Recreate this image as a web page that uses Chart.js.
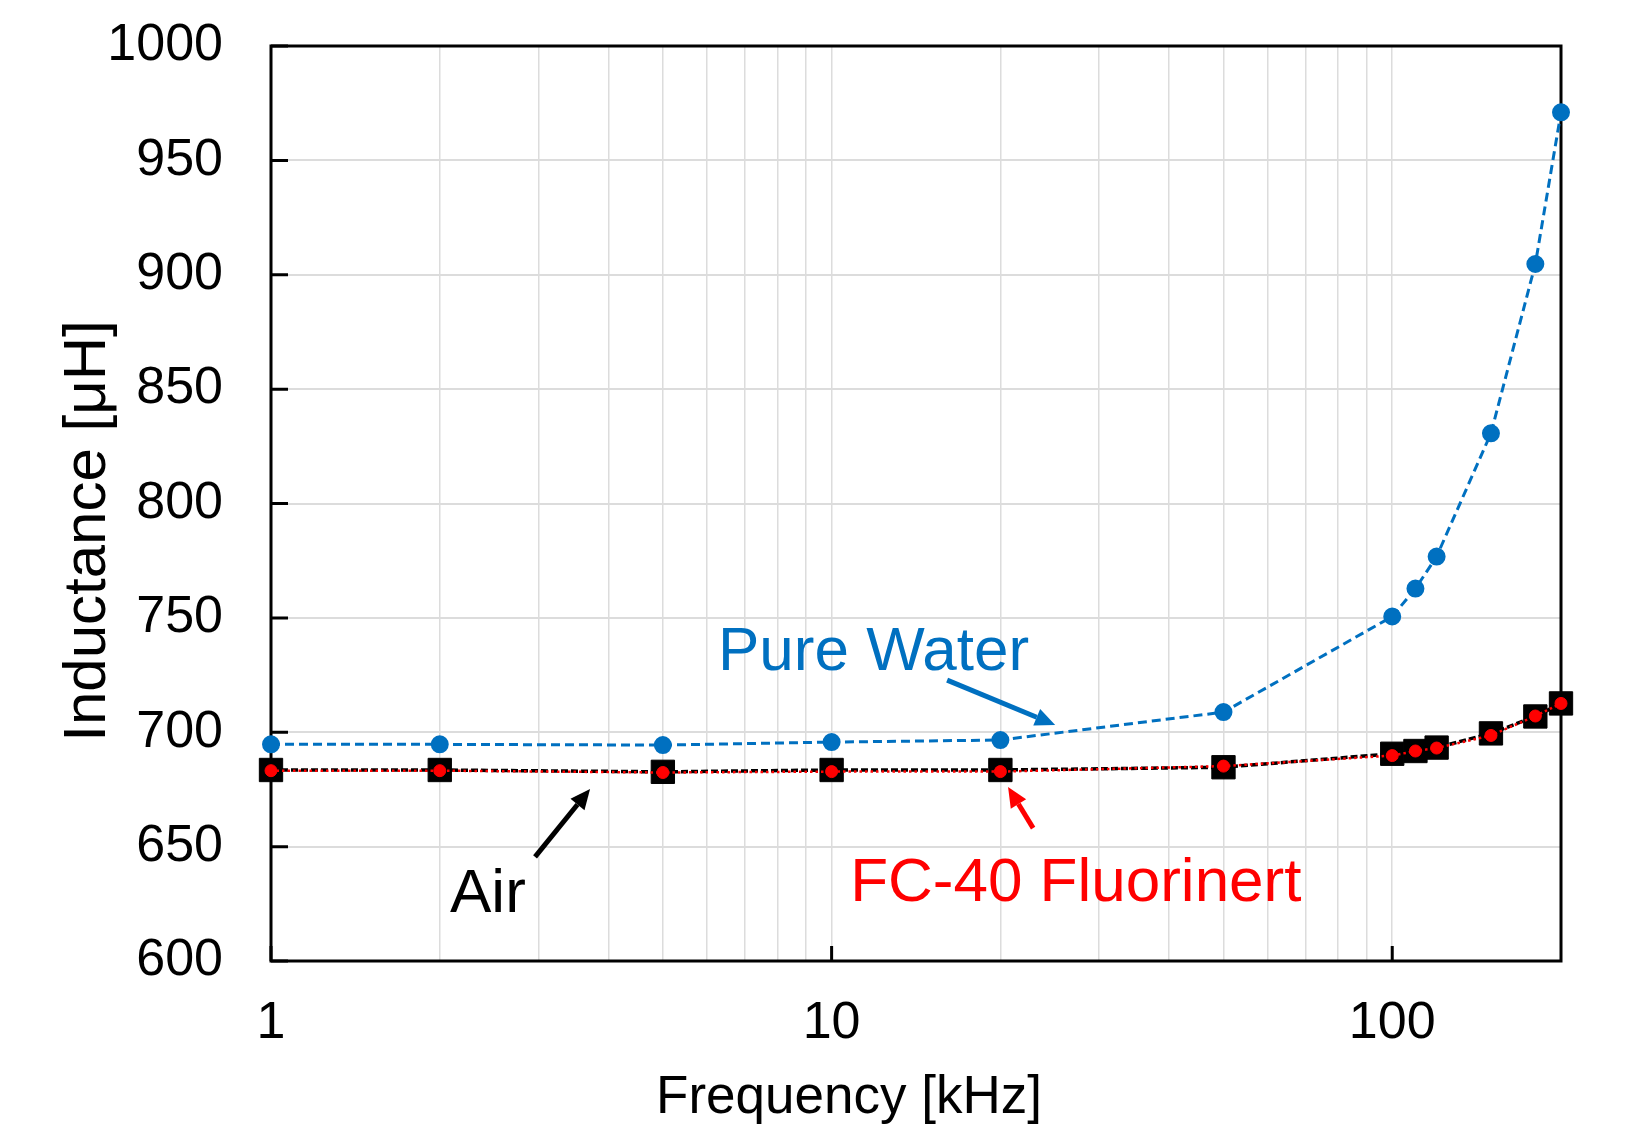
<!DOCTYPE html>
<html>
<head>
<meta charset="utf-8">
<script src="https://cdn.jsdelivr.net/npm/chart.js@4/dist/chart.umd.min.js"></script>
<style>
  html, body { margin: 0; padding: 0; background: #ffffff; }
  #wrap { width: 1628px; height: 1130px; }
</style>
</head>
<body>
<div id="wrap"><canvas id="c" width="1628" height="1130"></canvas></div>
<script>
// ---- data ----
const frequencies = [1, 2, 5, 10, 20, 50, 100, 110, 120, 150, 180, 200];
const pureWater = [694.7, 694.7, 694.4, 695.7, 696.6, 708.8, 750.6, 762.8, 776.8, 830.7, 904.7, 971.0];
const air = [683.5, 683.5, 682.7, 683.5, 683.5, 684.7, 690.6, 691.8, 693.3, 699.5, 706.9, 712.6];
const fc40 = [683.2, 683.2, 682.4, 682.8, 682.8, 685.2, 689.8, 691.8, 693.1, 698.6, 707.1, 712.6];
const seriesNames = ['Pure Water', 'Air', 'FC-40 Fluorinert'];
const xLabelTicks = [1, 10, 100];
const xGridTicks = [1, 2, 3, 4, 5, 6, 7, 8, 9, 10, 20, 30, 40, 50, 60, 70, 80, 90, 100, 200];
const yTicks = [600, 650, 700, 750, 800, 850, 900, 950, 1000];
const xTitle = 'Frequency [kHz]';
const yTitle = 'Inductance [\u03BCH]';

// annotation anchors in data units (frequency, inductance)
const annotTexts = [
  { text: 'Pure Water', x: 6.27, y: 727.2, color: '#0070C0' },
  { text: 'Air', x: 2.086, y: 621.4, color: '#000000' },
  { text: 'FC-40 Fluorinert', x: 10.79, y: 626.2, color: '#FF0000' }
];
const annotArrows = [
  { from: [16.07, 722.8], to: [25.05, 703.2], color: '#0070C0' },
  { from: [2.958, 645.5], to: [3.708, 675.2], color: '#000000' },
  { from: [22.88, 658.1], to: [20.64, 676.1], color: '#FF0000' }
];

const FONT = '"Liberation Sans", Arial, sans-serif';

function toPoints(ys) { return frequencies.map((f, i) => ({ x: f, y: ys[i] })); }

const framePlugin = {
  id: 'frame',
  beforeDatasetsDraw(chart) {
    const { ctx, chartArea: a, scales } = chart;
    ctx.save();
    ctx.strokeStyle = '#000';
    ctx.lineWidth = 3;
    ctx.beginPath();
    yTicks.forEach(v => {
      const py = scales.y.getPixelForValue(v);
      ctx.moveTo(a.left, py); ctx.lineTo(a.left + 17, py);
    });
    xLabelTicks.forEach(v => {
      const px = scales.x.getPixelForValue(v);
      ctx.moveTo(px, a.bottom); ctx.lineTo(px, a.bottom - 15);
    });
    ctx.stroke();
    ctx.strokeRect(a.left, a.top, a.right - a.left, a.bottom - a.top);
    ctx.restore();
  },
  afterDatasetsDraw(chart) {
    const { ctx, scales } = chart;
    ctx.save();
    annotArrows.forEach(ar => {
      const x1 = scales.x.getPixelForValue(ar.from[0]), y1 = scales.y.getPixelForValue(ar.from[1]);
      const x2 = scales.x.getPixelForValue(ar.to[0]), y2 = scales.y.getPixelForValue(ar.to[1]);
      const ang = Math.atan2(y2 - y1, x2 - x1);
      const hl = 20, hw = 9;
      const bx = x2 - hl * Math.cos(ang), by = y2 - hl * Math.sin(ang);
      ctx.strokeStyle = ar.color; ctx.fillStyle = ar.color;
      ctx.lineWidth = 5; ctx.lineCap = 'butt';
      ctx.beginPath(); ctx.moveTo(x1, y1); ctx.lineTo(bx, by); ctx.stroke();
      ctx.beginPath();
      ctx.moveTo(x2, y2);
      ctx.lineTo(bx + hw * Math.sin(ang), by - hw * Math.cos(ang));
      ctx.lineTo(bx - hw * Math.sin(ang), by + hw * Math.cos(ang));
      ctx.closePath(); ctx.fill();
    });
    ctx.font = '62px ' + FONT;
    ctx.textAlign = 'left';
    ctx.textBaseline = 'alphabetic';
    annotTexts.forEach(t => {
      ctx.fillStyle = t.color;
      ctx.fillText(t.text, scales.x.getPixelForValue(t.x), scales.y.getPixelForValue(t.y));
    });
    ctx.fillStyle = '#000';
    ctx.font = '53px ' + FONT;
    ctx.textAlign = 'center';
    ctx.fillText(xTitle, 849, 1113);
    ctx.save();
    ctx.translate(105, 531);
    ctx.rotate(-Math.PI / 2);
    ctx.font = '60px ' + FONT;
    ctx.fillText(yTitle, 0, 0);
    ctx.restore();
    ctx.restore();
  }
};

new Chart(document.getElementById('c'), {
  type: 'line',
  data: {
    datasets: [
      {
        label: seriesNames[0], data: toPoints(pureWater), order: 2,
        borderColor: '#0070C0', backgroundColor: '#0070C0', borderWidth: 3, borderDash: [9, 5],
        pointStyle: 'circle', pointRadius: 8, pointBorderWidth: 2, pointBorderColor: '#0070C0',
        tension: 0, clip: false
      },
      {
        label: seriesNames[1], data: toPoints(air), order: 1,
        borderColor: '#000000', backgroundColor: '#000000', borderWidth: 3.5, borderDash: [7, 3],
        pointStyle: 'rect', pointRadius: 16.5, pointBorderWidth: 1, pointBorderColor: '#000',
        tension: 0, clip: false
      },
      {
        label: seriesNames[2], data: toPoints(fc40), order: 0,
        borderColor: '#FF0000', backgroundColor: '#FF0000', borderWidth: 2.5, borderDash: [2.5, 3],
        pointStyle: 'circle', pointRadius: 6, pointBorderWidth: 1, pointBorderColor: '#FF0000',
        tension: 0, clip: false
      }
    ]
  },
  options: {
    responsive: false,
    animation: false,
    events: [],
    layout: { padding: { left: 0, top: 46, right: 67, bottom: 0 } },
    plugins: { legend: { display: false }, tooltip: { enabled: false }, title: { display: false } },
    scales: {
      x: {
        type: 'logarithmic', min: 1, max: 200,
        afterBuildTicks(scale) { scale.ticks = xGridTicks.map(v => ({ value: v, major: xLabelTicks.includes(v) })); },
        afterFit(scale) { scale.height = 169; scale.paddingLeft = 0; scale.paddingRight = 0; },
        ticks: {
          autoSkip: false, maxRotation: 0, minRotation: 0, padding: 31, color: '#000',
          font: { family: FONT, size: 52, lineHeight: 1.2 },
          callback: (v) => xLabelTicks.includes(v) ? String(v) : ''
        },
        grid: { color: '#dcdcdc', lineWidth: 1.5, drawTicks: false },
        border: { display: false }
      },
      y: {
        min: 600, max: 1000,
        afterBuildTicks(scale) { scale.ticks = yTicks.map(v => ({ value: v })); },
        afterFit(scale) { scale.width = 271; scale.paddingTop = 0; scale.paddingBottom = 0; },
        ticks: {
          padding: 48, color: '#000',
          font: { family: FONT, size: 52, lineHeight: 1.2 },
          callback: (v) => String(v)
        },
        grid: { color: '#dcdcdc', lineWidth: 2, drawTicks: false },
        border: { display: false }
      }
    }
  },
  plugins: [framePlugin]
});
</script>
</body>
</html>
